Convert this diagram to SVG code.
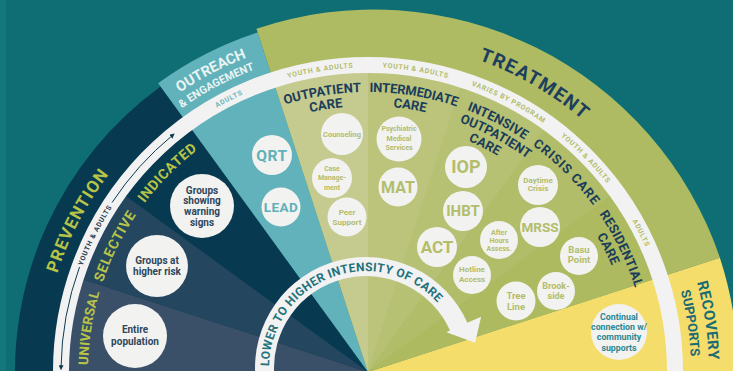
<svg xmlns="http://www.w3.org/2000/svg" width="733" height="371" viewBox="0 0 733 371">
<defs>
<style>
text{font-family:Roboto,'Liberation Sans',sans-serif;font-weight:700;text-anchor:middle}
.c{fill:#f2f2f0}
.pv{fill:#2e475c;font-size:10px}
.ot{fill:#5fb1b8}
.tr{fill:#b3bd6c}
.rc{fill:#2d8790;font-size:8.8px}
.ring{font-size:7px;letter-spacing:.7px}
.sub{fill:#1b3d5b;font-size:13px}
.yl{fill:#b8c447}
</style>
<path id="tp252" d="M 116 372 A 252 252 0 0 1 620 372"/>
<path id="tp266" d="M 102 372 A 266 266 0 0 1 634 372"/>
<path id="tp280" d="M 88 372 A 280 280 0 0 1 648 372"/>
<path id="tp304" d="M 63.5 372 A 304.5 304.5 0 0 1 672.5 372"/>
<path id="tp323" d="M 45 372 A 323 323 0 0 1 691 372"/>
<path id="tp326" d="M 42 372 A 326 326 0 0 1 694 372"/>
<path id="tp331" d="M 37 372 A 331 331 0 0 1 699 372"/>
<path id="tp337" d="M 31 372 A 337 337 0 0 1 705 372"/>
<path id="tp341" d="M 27 372 A 341 341 0 0 1 709 372"/>
<path id="tpA" d="M 270.47 384.84 A 97 97 0 1 1 461.53 384.84"/>
<marker id="ah" viewBox="0 0 10 10" refX="5" refY="5" markerWidth="5" markerHeight="5" orient="auto"><path d="M0,0 L10,5 L0,10 z" fill="#0d3a50"/></marker>
</defs>

<rect width="733" height="371" fill="#0e6e74"/>
<rect width="6" height="371" fill="#12787c"/>

<g id="sectors">
<path d="M 368 372 L 16.34 402.77 A 353 353 0 0 1 160.51 86.42 Z" fill="#073a50"/>
<path d="M 368 372 L 158.16 83.18 A 357 357 0 0 1 257.68 32.47 Z" fill="#61b2ba"/>
<path d="M 368 372 L 256.44 28.67 A 366 366 0 0 1 719.89 257.66 Z" fill="#aebb62"/>
<path d="M 368 372 L 719.89 257.66 A 370 370 0 0 1 736.59 404.25 Z" fill="#f5dd6c"/>
<path d="M 368 372 L 59.18 399.02 A 310 310 0 0 1 73.17 276.20 Z" fill="#395068"/>
<path d="M 368 372 L 73.17 276.20 A 310 310 0 0 1 117.20 189.79 Z" fill="#24465f"/>
<path d="M 368 372 L 272.20 77.17 A 310 310 0 0 1 368 62 Z" fill="#c5ca8e"/>
<path d="M 368 372 L 368 62 A 310 310 0 0 1 463.80 77.17 Z" fill="#bcc47b"/>
<path d="M 368 372 L 463.80 77.17 A 310 310 0 0 1 550.21 121.20 Z" fill="#b7c173"/>
<path d="M 368 372 L 550.21 121.20 A 310 310 0 0 1 618.80 189.79 Z" fill="#b2bd6a"/>
<path d="M 368 372 L 618.80 189.79 A 310 310 0 0 1 662.83 276.20 Z" fill="#adba60"/>
</g>

<g id="ring">
<path d="M 61.19 382.71 A 307 307 0 1 1 674.81 382.71" fill="none" stroke="#f2f2f2" stroke-width="16"/>
<text class="ring" fill="#1d3d52"><textPath href="#tp304" startOffset="14.8%">YOUTH &amp; ADULTS</textPath></text>
<text class="ring" fill="#6ab6bc"><textPath href="#tp304" startOffset="35%">ADULTS</textPath></text>
<text class="ring tr"><textPath href="#tp304" startOffset="45%">YOUTH &amp; ADULTS</textPath></text>
<text class="ring tr"><textPath href="#tp304" startOffset="55%">YOUTH &amp; ADULTS</textPath></text>
<text class="ring tr"><textPath href="#tp304" startOffset="65.3%">VARIES BY PROGRAM</textPath></text>
<text class="ring tr"><textPath href="#tp304" startOffset="75.3%">YOUTH &amp; ADULTS</textPath></text>
<text class="ring tr"><textPath href="#tp304" startOffset="85%">ADULTS</textPath></text>
</g>

<g id="labels">
<text class="yl" font-size="17" letter-spacing="1"><textPath href="#tp326" startOffset="15.3%">PREVENTION</textPath></text>
<text fill="#eaf4f4" font-size="14.5"><textPath href="#tp337" startOffset="34.7%">OUTREACH</textPath></text>
<text fill="#eaf4f4" font-size="11"><textPath href="#tp323" startOffset="34.5%">&amp; ENGAGEMENT</textPath></text>
<text fill="#1d3e5c" font-size="19" letter-spacing="1.2"><textPath href="#tp331" startOffset="66.7%">TREATMENT</textPath></text>
<text fill="#1a6b74" font-size="15" letter-spacing=".5"><textPath href="#tp341" startOffset="95.2%">RECOVERY</textPath></text>
<text fill="#1a6b74" font-size="13"><textPath href="#tp323" startOffset="95.2%">SUPPORTS</textPath></text>
<text class="yl" font-size="13.5" letter-spacing=".2"><textPath href="#tp280" startOffset="5%">UNIVERSAL</textPath></text>
<text class="yl" font-size="14" letter-spacing=".6"><textPath href="#tp280" startOffset="14.7%">SELECTIVE</textPath></text>
<text class="yl" font-size="14" letter-spacing=".6"><textPath href="#tp280" startOffset="24.9%">INDICATED</textPath></text>
<text class="sub"><textPath href="#tp280" startOffset="44.8%">OUTPATIENT</textPath></text>
<text class="sub"><textPath href="#tp266" startOffset="45%">CARE</textPath></text>
<text class="sub" font-size="11.5" letter-spacing="-.2"><textPath href="#tp280" startOffset="55.2%">INTERMEDIATE</textPath></text>
<text class="sub"><textPath href="#tp266" startOffset="55%">CARE</textPath></text>
<text class="sub" font-size="12.5"><textPath href="#tp280" startOffset="65.2%">INTENSIVE</textPath></text>
<text class="sub" font-size="12.5"><textPath href="#tp266" startOffset="65.8%">OUTPATIENT</textPath></text>
<text class="sub" font-size="12.5"><textPath href="#tp252" startOffset="65.1%">CARE</textPath></text>
<text class="sub" letter-spacing=".9"><textPath href="#tp280" startOffset="74.9%">CRISIS CARE</textPath></text>
<text class="sub" letter-spacing=".2"><textPath href="#tp280" startOffset="85.6%">RESIDENTIAL</textPath></text>
<text class="sub"><textPath href="#tp266" startOffset="84.9%">CARE</textPath></text>
</g>

<g id="connectors">
<path d="M 112.00 202.55 A 307 307 0 0 1 172.72 135.11" fill="none" stroke="#0d3a50" stroke-width="1" marker-end="url(#ah)"/>
<path d="M 79.52 267.00 A 307 307 0 0 0 61.03 367.71" fill="none" stroke="#0d3a50" stroke-width="1" marker-end="url(#ah)"/>
<path d="M 255.42 377.67 A 111 111 0 0 1 467.40 322.85 L 481.11 316.75 L 475.13 342.81 L 446.39 332.21 L 450.05 330.58 A 92 92 0 0 0 274.35 376.02 Z" fill="#f2f2f2"/>
<text fill="#22717b" font-size="12" letter-spacing=".4"><textPath href="#tpA" startOffset="39.7%">LOWER TO HIGHER INTENSITY OF CARE</textPath></text>
</g>

<g id="n-warning"><circle class="c" cx="202" cy="206" r="32"/><text class="pv"><tspan x="202" y="193.5">Groups</tspan><tspan x="202" y="204.2">showing</tspan><tspan x="202" y="214.8">warning</tspan><tspan x="202" y="225.5">signs</tspan></text></g>
<g id="n-risk"><circle class="c" cx="157" cy="266" r="31"/><text class="pv"><tspan x="157" y="263.5">Groups at</tspan><tspan x="157" y="275.2">higher risk</tspan></text></g>
<g id="n-entire"><circle class="c" cx="135" cy="336" r="32"/><text class="pv"><tspan x="135" y="332.5">Entire</tspan><tspan x="135" y="345.2">population</tspan></text></g>

<g id="n-qrt"><circle class="c" cx="272" cy="155" r="20"/><text class="ot" x="272" y="160.5" font-size="15.5" letter-spacing=".5">QRT</text></g>
<g id="n-lead"><circle class="c" cx="281" cy="207" r="19.5"/><text class="ot" x="281" y="212" font-size="13.5" letter-spacing=".5">LEAD</text></g>

<g id="n-counseling"><circle class="c" cx="342" cy="134" r="21"/><text class="tr" x="342" y="136.7" font-size="7.5">Counseling</text></g>
<g id="n-case"><circle class="c" cx="332" cy="178" r="20"/><text class="tr" font-size="7"><tspan x="332" y="170.5">Case</tspan><tspan x="332" y="180">Manage-</tspan><tspan x="332" y="189.5">ment</tspan></text></g>
<g id="n-peer"><circle class="c" cx="347" cy="217" r="19.5"/><text class="tr" font-size="8"><tspan x="347" y="215">Peer</tspan><tspan x="347" y="225">Support</tspan></text></g>
<g id="n-psych"><circle class="c" cx="399" cy="139" r="22.5"/><text class="tr" font-size="7"><tspan x="399" y="130.8">Psychiatric</tspan><tspan x="399" y="140.8">Medical</tspan><tspan x="399" y="150.2">Services</tspan></text></g>
<g id="n-mat"><circle class="c" cx="398" cy="187" r="19.5"/><text class="tr" x="398" y="192.7" font-size="16">MAT</text></g>
<g id="n-iop"><circle class="c" cx="466" cy="167" r="21"/><text class="tr" x="466" y="173.4" font-size="18">IOP</text></g>
<g id="n-ihbt"><circle class="c" cx="463" cy="211" r="20"/><text class="tr" x="463" y="216.3" font-size="15">IHBT</text></g>
<g id="n-act"><circle class="c" cx="437" cy="247" r="20"/><text class="tr" x="437" y="253" font-size="17">ACT</text></g>
<g id="n-afterhours"><circle class="c" cx="499" cy="240" r="19"/><text class="tr" font-size="7"><tspan x="499" y="234.5">After</tspan><tspan x="499" y="242.5">Hours</tspan><tspan x="499" y="250.8">Assess.</tspan></text></g>
<g id="n-hotline"><circle class="c" cx="472" cy="275" r="19"/><text class="tr" font-size="8"><tspan x="472" y="272">Hotline</tspan><tspan x="472" y="282">Access</tspan></text></g>
<g id="n-daytime"><circle class="c" cx="538" cy="185" r="20"/><text class="tr" font-size="8"><tspan x="538" y="182.8">Daytime</tspan><tspan x="538" y="191">Crisis</tspan></text></g>
<g id="n-mrss"><circle class="c" cx="540" cy="227" r="20"/><text class="tr" x="540" y="231.8" font-size="13.5">MRSS</text></g>
<g id="n-basu"><circle class="c" cx="579" cy="256" r="19"/><text class="tr" font-size="9.5"><tspan x="579" y="252.6">Basu</tspan><tspan x="579" y="263.3">Point</tspan></text></g>
<g id="n-brookside"><circle class="c" cx="556" cy="291" r="19"/><text class="tr" font-size="9"><tspan x="556" y="289.2">Brook-</tspan><tspan x="556" y="299.2">side</tspan></text></g>
<g id="n-treeline"><circle class="c" cx="516" cy="301" r="19.5"/><text class="tr" font-size="9.5"><tspan x="516" y="299.3">Tree</tspan><tspan x="516" y="310">Line</tspan></text></g>
<g id="n-continual"><circle class="c" cx="619" cy="332" r="28"/><text class="rc"><tspan x="619" y="319.8">Continual</tspan><tspan x="619" y="329.8">connection w/</tspan><tspan x="619" y="340.4">community</tspan><tspan x="619" y="350.8">supports</tspan></text></g>
</svg>
